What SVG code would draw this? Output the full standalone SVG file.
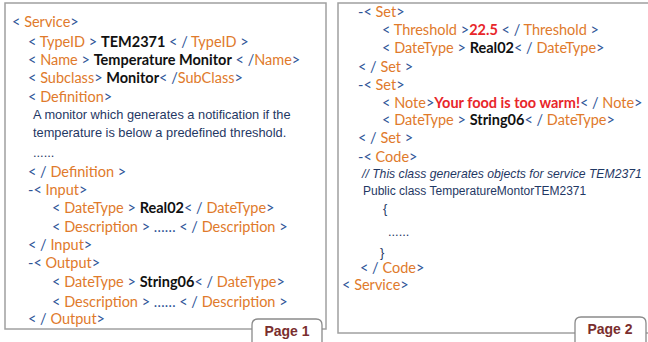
<svg xmlns="http://www.w3.org/2000/svg" width="648" height="342" viewBox="0 0 648 342">
<style>
.x{font-family:Lato,"Open Sans",sans-serif;font-size:14.5px;fill:#2f5597}
.t{fill:#e07a2b}
.v{fill:#111;font-weight:700}
.r{fill:#e8262a;font-weight:700}
.a{font-family:"Liberation Sans",Arial,sans-serif;font-size:12.8px;fill:#1f3864}
.i{font-style:italic;font-size:12.2px}
.s{font-size:12px}
.box{fill:#fff;stroke:#a0a0a0;stroke-width:1.5}
.tab{fill:#fff;stroke:#8a8a8a;stroke-width:1.3}
.pg{font-family:"Liberation Sans",Arial,sans-serif;font-size:14px;font-weight:700;fill:#7a2e2e;text-anchor:middle}
</style>
<rect width="648" height="342" fill="#fff"/>
<g id="page1">
<rect class="box" x="5" y="3" width="321" height="326"/>
<text class="x" x="12" y="27">&lt; <tspan class="t">Service</tspan>&gt;</text>
<text class="x" x="28" y="47">&lt; <tspan class="t">TypeID</tspan> &gt; <tspan class="v">TEM2371</tspan> &lt; / <tspan class="t">TypeID</tspan> &gt;</text>
<text class="x" x="28" y="65">&lt; <tspan class="t">Name</tspan> &gt; <tspan class="v">Temperature Monitor</tspan> &lt; /<tspan class="t">Name</tspan>&gt;</text>
<text class="x" x="28" y="83">&lt; <tspan class="t">Subclass</tspan>&gt; <tspan class="v">Monitor</tspan>&lt; /<tspan class="t">SubClass</tspan>&gt;</text>
<text class="x" x="28" y="102">&lt; <tspan class="t">Definition</tspan>&gt;</text>
<text class="a" x="33" y="119">A monitor which generates a notification if the</text>
<text class="a" x="33" y="137">temperature is below a predefined threshold.</text>
<text class="a" x="33" y="157">......</text>
<text class="x" x="28" y="177">&lt; / <tspan class="t">Definition</tspan> &gt;</text>
<text class="x" x="28" y="195">-&lt; <tspan class="t">Input</tspan>&gt;</text>
<text class="x" x="52" y="213">&lt; <tspan class="t">DateType</tspan> &gt; <tspan class="v">Real02</tspan>&lt; / <tspan class="t">DateType</tspan>&gt;</text>
<text class="x" x="52" y="232">&lt; <tspan class="t">Description</tspan> &gt; …… &lt; / <tspan class="t">Description</tspan> &gt;</text>
<text class="x" x="28" y="250">&lt; / <tspan class="t">Input</tspan>&gt;</text>
<text class="x" x="28" y="268">-&lt; <tspan class="t">Output</tspan>&gt;</text>
<text class="x" x="52" y="287">&lt; <tspan class="t">DateType</tspan> &gt; <tspan class="v">String06</tspan>&lt; / <tspan class="t">DateType</tspan>&gt;</text>
<text class="x" x="52" y="307">&lt; <tspan class="t">Description</tspan> &gt; …… &lt; / <tspan class="t">Description</tspan> &gt;</text>
<text class="x" x="28" y="324">&lt; / <tspan class="t">Output</tspan>&gt;</text>
<path class="tab" d="M252 345 V325 Q252 319 258 319 H316 Q322 319 322 325 V345"/>
<text class="pg" x="287" y="336">Page 1</text>
</g>
<g id="page2">
<rect class="box" x="338" y="3" width="314" height="330"/>
<text class="x" x="358" y="17">-&lt; <tspan class="t">Set</tspan>&gt;</text>
<text class="x" x="382" y="35">&lt; <tspan class="t">Threshold</tspan> &gt;<tspan class="r">22.5</tspan> &lt; / <tspan class="t">Threshold</tspan> &gt;</text>
<text class="x" x="382" y="53">&lt; <tspan class="t">DateType</tspan> &gt; <tspan class="v">Real02</tspan>&lt; / <tspan class="t">DateType</tspan>&gt;</text>
<text class="x" x="358" y="72">&lt; / <tspan class="t">Set</tspan> &gt;</text>
<text class="x" x="358" y="90">-&lt; <tspan class="t">Set</tspan>&gt;</text>
<text class="x" x="382" y="108">&lt; <tspan class="t">Note</tspan>&gt;<tspan class="r">Your food is too warm!</tspan>&lt; / <tspan class="t">Note</tspan>&gt;</text>
<text class="x" x="382" y="125">&lt; <tspan class="t">DateType</tspan> &gt; <tspan class="v">String06</tspan>&lt; / <tspan class="t">DateType</tspan>&gt;</text>
<text class="x" x="358" y="143">&lt; / <tspan class="t">Set</tspan> &gt;</text>
<text class="x" x="358" y="162">-&lt; <tspan class="t">Code</tspan>&gt;</text>
<text class="a i" x="362" y="178">// This class generates objects for service TEM2371</text>
<text class="a s" x="363" y="195">Public class TemperatureMontorTEM2371</text>
<text class="a" x="383" y="213">{</text>
<text class="a" x="388" y="236">......</text>
<text class="a" x="380" y="257">}</text>
<text class="x" x="360" y="273">&lt; / <tspan class="t">Code</tspan>&gt;</text>
<text class="x" x="342" y="290">&lt; <tspan class="t">Service</tspan>&gt;</text>
<path class="tab" d="M575 345 V323 Q575 317 581 317 H640 Q646 317 646 323 V345"/>
<text class="pg" x="610" y="334">Page 2</text>
</g>
</svg>
